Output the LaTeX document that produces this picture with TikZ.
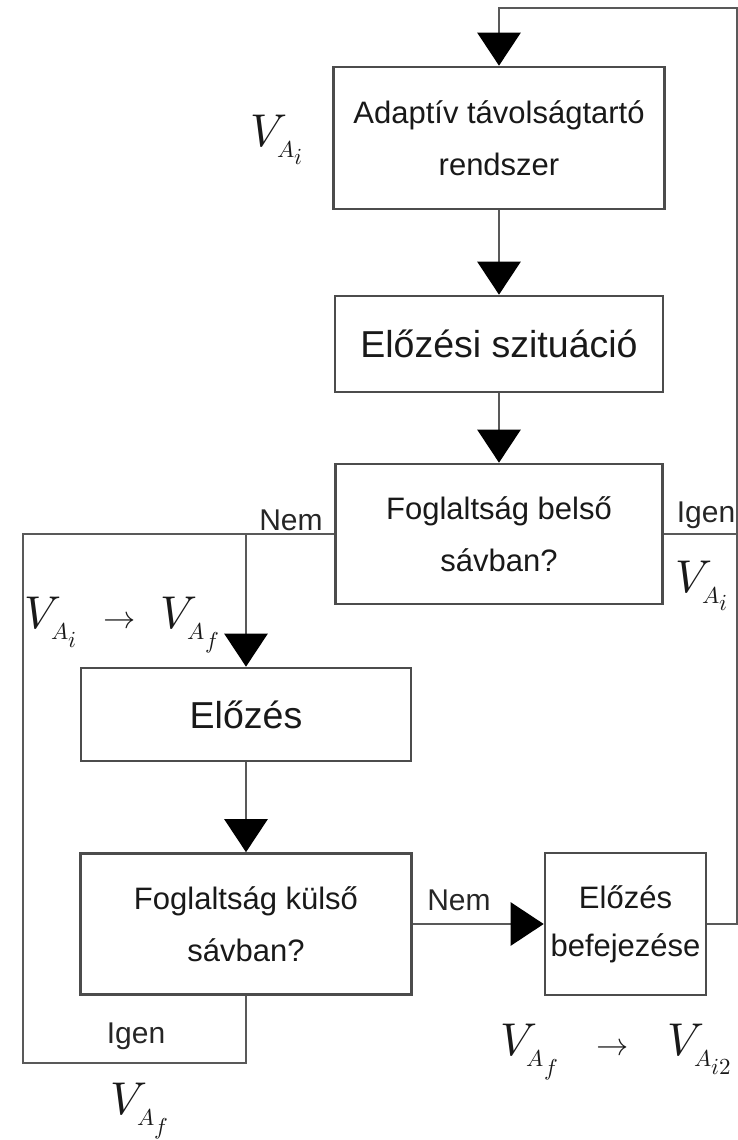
\documentclass[tikz,border=0pt]{standalone}
\usepackage{fontspec}
\usepackage{unicode-math}
\setmainfont{Liberation Sans}
\setmathfont{Latin Modern Math}
\usetikzlibrary{arrows.meta}
\newcommand{\Vsub}[1]{V_{\scriptscriptstyle A_{#1}}}
\newcommand{\smallto}{\mathrel{\scriptstyle\to}}
\begin{document}
\begin{tikzpicture}[x=1pt,y=-1pt,
  box/.style={draw=black!70, line width=2.6pt, fill=white, align=center, inner sep=0pt,
    font=\fontsize{31}{52}\selectfont, text=black!90},
  bigbox/.style={box, font=\fontsize{37.5}{44}\selectfont},
  conn/.style={draw=black!65, line width=2.6pt},
  arr/.style={conn, -{Triangle[width=43pt,length=33pt,color=black]}},
  lbl/.style={font=\fontsize{30}{36}\selectfont, text=black!85, inner sep=0pt},
  mlbl/.style={font=\fontsize{46}{50}\selectfont, text=black!90, inner sep=0pt}]
\useasboundingbox (0,0) rectangle (738,1140);

% boxes
\node[box, minimum width=331pt, minimum height=142pt] (b1) at (499,138) {Adaptív távolságtartó\\rendszer};
\node[bigbox, minimum width=328pt, minimum height=96pt] (b2) at (499,344) {Előzési szituáció};
\node[box, minimum width=327pt, minimum height=140pt] (b3) at (499,534) {Foglaltság belső\\sávban?};
\node[bigbox, minimum width=330pt, minimum height=93pt] (b4) at (246,714.5) {Előzés};
\node[box, minimum width=331pt, minimum height=141pt] (b5) at (246,924) {Foglaltság külső\\sávban?};
\node[box, minimum width=161pt, minimum height=142pt, font=\fontsize{31}{48}\selectfont] (b6) at (625.5,924) {Előzés\\befejezése};

% helper coordinates
\coordinate (rtop) at (737,8);
\coordinate (ltop) at (23,534);
\coordinate (lbot) at (23,1063);

% connectors
\draw[arr] (b1.south) -- (b2.north);
\draw[arr] (b2.south) -- (b3.north);
\draw[arr] (b6.east) -| (rtop) -| (b1.north);
\draw[conn] (b3.east) -- (b3.east -| rtop);
\draw[conn] (b3.west) -- (ltop) -- (lbot) -| (b5.south);
\draw[arr] (b4.north |- b3.west) -- (b4.north);
\draw[arr] (b4.south) -- (b5.north);
\draw[arr] (b5.east) -- (b6.west);

% text labels
\node[lbl, anchor=base] (nem1) at (291,530) {Nem};
\node[lbl, anchor=base] (igen1) at (706,522) {Igen};
\node[lbl, anchor=base] (nem2) at (459,910) {Nem};
\node[lbl, anchor=base] (igen2) at (136,1043) {Igen};

% math labels
\node[mlbl] (m1) at (277,140) {$\Vsub{i}$};
\node[mlbl] (m2) at (702,586) {$\Vsub{i}$};
\node[mlbl] (m3) at (122,625) {$\Vsub{i}\;\smallto\;\Vsub{f}$};
\node[mlbl] (m4) at (140,1111) {$\Vsub{f}$};
\node[mlbl] (m5) at (616,1052) {$\Vsub{f}\;\;\smallto\;\;\Vsub{i2}$};
\end{tikzpicture}
\end{document}
